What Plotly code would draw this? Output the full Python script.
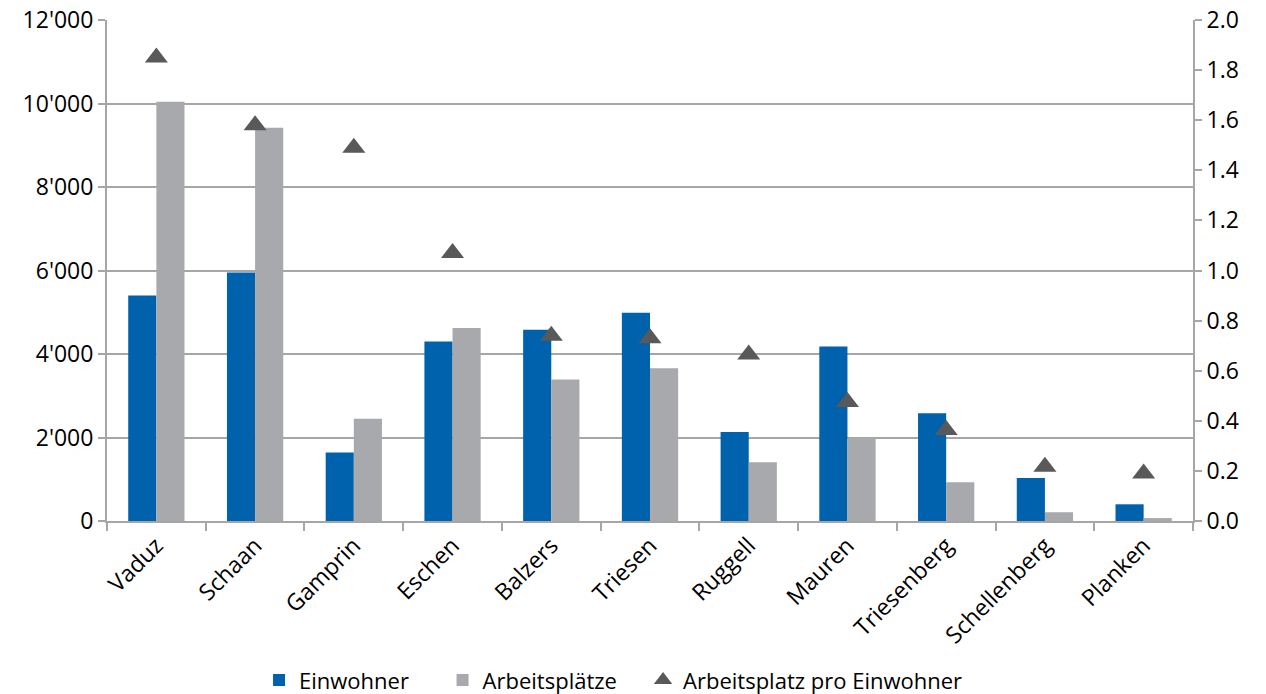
import plotly.graph_objects as go

# Gemeinden in Liechtenstein
gemeinden = ["Vaduz", "Schaan", "Gamprin", "Eschen", "Balzers", "Triesen",
             "Ruggell", "Mauren", "Triesenberg", "Schellenberg", "Planken"]
einwohner = [5400, 5950, 1640, 4300, 4580, 4990, 2130, 4180, 2580, 1030, 400]
arbeitsplaetze = [10040, 9420, 2450, 4620, 3390, 3660, 1410, 1990, 930, 210, 70]
pro_einwohner = [1.85, 1.58, 1.49, 1.07, 0.74, 0.73, 0.665, 0.475, 0.363, 0.217, 0.19]

left_ticks = [0, 2000, 4000, 6000, 8000, 10000, 12000]
right_ticks = [0.0, 0.2, 0.4, 0.6, 0.8, 1.0, 1.2, 1.4, 1.6, 1.8, 2.0]

FONT = "Open Sans"
FS = 23
AXIS_GREY = "#A6A6A6"

fig = go.Figure()
fig.add_trace(go.Bar(x=gemeinden, y=einwohner, name="Einwohner", legend="legend",
                     marker=dict(color="#0061AD", line=dict(width=0))))
fig.add_trace(go.Bar(x=gemeinden, y=arbeitsplaetze, name="Arbeitsplätze", legend="legend2",
                     marker=dict(color="#A7A9AC", line=dict(width=0))))
fig.add_trace(go.Scatter(x=gemeinden, y=pro_einwohner, name="Arbeitsplatz pro Einwohner",
                         legend="legend3", mode="markers", yaxis="y2",
                         marker=dict(symbol="triangle-up", size=20, color="#595959")))


def legend_at(x):
    # one legend entry per box, spaced along the bottom of the chart
    return dict(orientation="h", x=x, xanchor="left", y=-0.318, yanchor="middle",
                font=dict(size=22), itemwidth=30, bgcolor="rgba(0,0,0,0)")


fig.update_layout(
    width=1266, height=694,
    margin=dict(l=107, r=73, t=20, b=173, autoexpand=False),
    paper_bgcolor="white", plot_bgcolor="white",
    separators=".'",
    barmode="group", bargap=0.43, bargroupgap=0,
    font=dict(family=FONT, size=FS, color="#000000"),
    showlegend=True,
    legend=legend_at(0.140),
    legend2=legend_at(0.309),
    legend3=legend_at(0.4936),
    xaxis=dict(
        type="category", range=[-0.5, len(gemeinden) - 0.5],
        tickangle=-45, tickson="boundaries", automargin=False,
        ticks="outside", ticklen=8, tickcolor=AXIS_GREY, tickwidth=2,
        showline=True, linecolor=AXIS_GREY, linewidth=2,
        showgrid=False, tickfont=dict(size=FS),
    ),
    yaxis=dict(
        range=[0, 12000], tickvals=left_ticks, tickformat=",d", automargin=False,
        ticks="outside", ticklen=7, tickcolor=AXIS_GREY, tickwidth=2,
        showline=True, linecolor=AXIS_GREY, linewidth=2,
        showgrid=True, gridcolor=AXIS_GREY, gridwidth=2,
        zeroline=False, tickfont=dict(size=FS),
    ),
    yaxis2=dict(
        range=[0, 2.0], tickvals=right_ticks, tickformat=".1f", automargin=False,
        overlaying="y", side="right",
        ticks="outside", ticklen=7, tickcolor=AXIS_GREY, tickwidth=2,
        showline=True, linecolor=AXIS_GREY, linewidth=2,
        showgrid=False, zeroline=False, tickfont=dict(size=FS),
    ),
)

fig.write_html("out.html")
